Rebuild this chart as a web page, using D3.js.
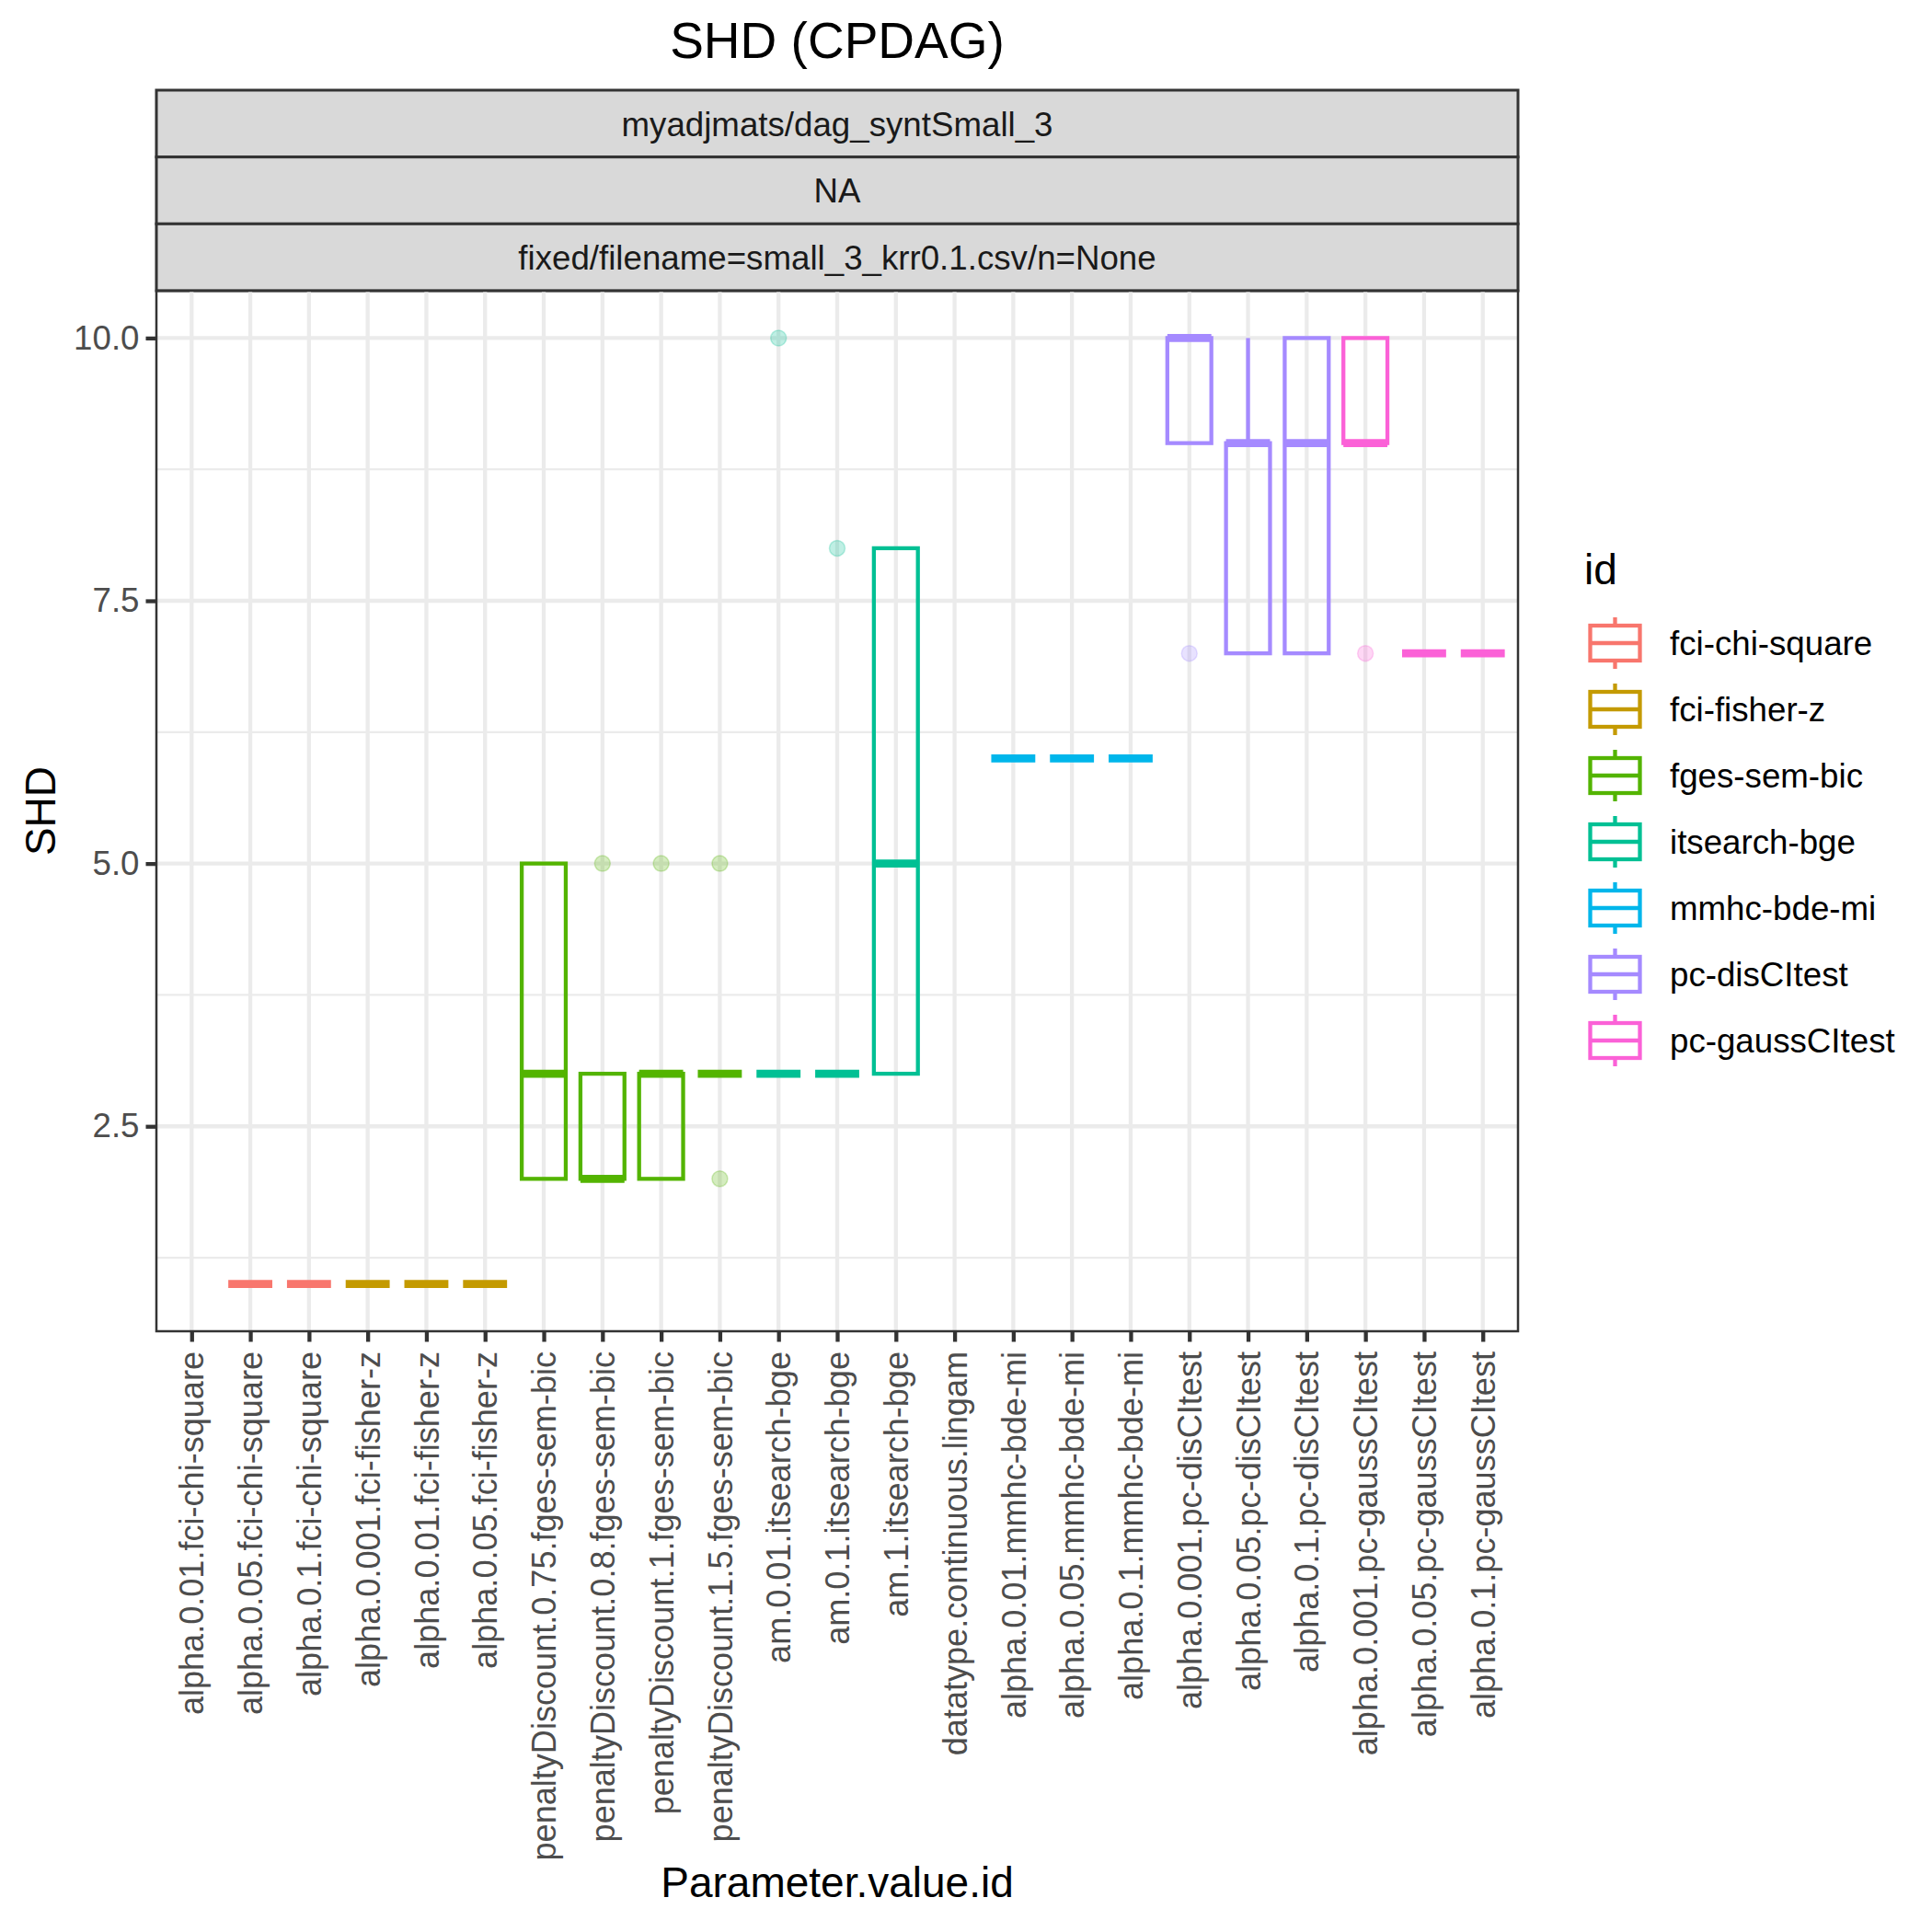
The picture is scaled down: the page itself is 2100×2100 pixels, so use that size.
<!DOCTYPE html>
<html>
<head>
<meta charset="utf-8">
<script src="https://cdn.jsdelivr.net/npm/d3@7"></script>
<style>
  body { margin: 0; background: #fff; }
  text { font-family: "Liberation Sans", Arial, Helvetica, sans-serif; }
</style>
</head>
<body>
<div id="chart"></div>
<script>
// x categories, left to right
const categories = [
  "alpha.0.01.fci-chi-square", "alpha.0.05.fci-chi-square", "alpha.0.1.fci-chi-square",
  "alpha.0.001.fci-fisher-z", "alpha.0.01.fci-fisher-z", "alpha.0.05.fci-fisher-z",
  "penaltyDiscount.0.75.fges-sem-bic", "penaltyDiscount.0.8.fges-sem-bic",
  "penaltyDiscount.1.fges-sem-bic", "penaltyDiscount.1.5.fges-sem-bic",
  "am.0.01.itsearch-bge", "am.0.1.itsearch-bge", "am.1.itsearch-bge",
  "datatype.continuous.lingam",
  "alpha.0.01.mmhc-bde-mi", "alpha.0.05.mmhc-bde-mi", "alpha.0.1.mmhc-bde-mi",
  "alpha.0.001.pc-disCItest", "alpha.0.05.pc-disCItest", "alpha.0.1.pc-disCItest",
  "alpha.0.001.pc-gaussCItest", "alpha.0.05.pc-gaussCItest", "alpha.0.1.pc-gaussCItest"
];
// which id each category belongs to
const catIds = [
  "fci-chi-square", "fci-chi-square", "fci-chi-square",
  "fci-fisher-z", "fci-fisher-z", "fci-fisher-z",
  "fges-sem-bic", "fges-sem-bic", "fges-sem-bic", "fges-sem-bic",
  "itsearch-bge", "itsearch-bge", "itsearch-bge",
  "lingam",
  "mmhc-bde-mi", "mmhc-bde-mi", "mmhc-bde-mi",
  "pc-disCItest", "pc-disCItest", "pc-disCItest",
  "pc-gaussCItest", "pc-gaussCItest", "pc-gaussCItest"
];
const idNames = ["fci-chi-square", "fci-fisher-z", "fges-sem-bic", "itsearch-bge", "mmhc-bde-mi", "pc-disCItest", "pc-gaussCItest"];
const idColors = ["#F8766D", "#C49A00", "#53B400", "#00C094", "#00B6EB", "#A58AFF", "#FB61D7"];

// boxplot stats per category (null = nothing drawn)
const whiskerLow  = [null, 1, 1, 1, 1, 1, 2, 2, 2, 3, 3, 3, 3, null, 6, 6, 6, 9, 7, 7, 9, 7, 7];
const boxLower    = [null, 1, 1, 1, 1, 1, 2, 2, 2, 3, 3, 3, 3, null, 6, 6, 6, 9, 7, 7, 9, 7, 7];
const boxMedian   = [null, 1, 1, 1, 1, 1, 3, 2, 3, 3, 3, 3, 5, null, 6, 6, 6, 10, 9, 9, 9, 7, 7];
const boxUpper    = [null, 1, 1, 1, 1, 1, 5, 3, 3, 3, 3, 3, 8, null, 6, 6, 6, 10, 9, 10, 10, 7, 7];
const whiskerHigh = [null, 1, 1, 1, 1, 1, 5, 3, 3, 3, 3, 3, 8, null, 6, 6, 6, 10, 10, 10, 10, 7, 7];
// outliers: [category index, value]
const outliers = [[7, 5], [8, 5], [9, 5], [9, 2], [10, 10], [11, 8], [17, 7], [20, 7]];

const yTicks = [2.5, 5, 7.5, 10];
const yMinor = [1.25, 3.75, 6.25, 8.75];
const stripLabels = ["myadjmats/dag_syntSmall_3", "NA", "fixed/filename=small_3_krr0.1.csv/n=None"];

const w = 2100;
const h = 2100;
const pL = 170, pR = 1650, pT = 316, pB = 1447;
const stripTop = 98;
const stripH = (pT - stripTop) / 3;
const lw = 4.3; // box line width

const svg = d3.select("#chart")
              .append("svg")
              .attr("width", w)
              .attr("height", h);

svg.append("rect").attr("width", w).attr("height", h).attr("fill", "#fff");

const xScale = d3.scalePoint()
                 .domain(categories)
                 .range([pL, pR])
                 .padding(0.6);
const yScale = d3.scaleLinear()
                 .domain([0.55, 10.45])
                 .range([pB, pT]);
const color = d3.scaleOrdinal().domain(idNames).range(idColors);
const boxW = xScale.step() * 0.75;

// title
svg.append("text")
   .attr("x", (pL + pR) / 2)
   .attr("y", 63)
   .attr("text-anchor", "middle")
   .attr("font-size", 55)
   .attr("fill", "#000")
   .text("SHD (CPDAG)");

// facet strips
stripLabels.forEach((lab, i) => {
  svg.append("rect")
     .attr("x", pL).attr("y", stripTop + i * stripH)
     .attr("width", pR - pL).attr("height", stripH)
     .attr("fill", "#D9D9D9").attr("stroke", "#333333").attr("stroke-width", 3);
  svg.append("text")
     .attr("x", (pL + pR) / 2)
     .attr("y", stripTop + i * stripH + stripH / 2)
     .attr("dy", "0.36em")
     .attr("text-anchor", "middle")
     .attr("font-size", 36.7)
     .attr("fill", "#1A1A1A")
     .text(lab);
});

// grid
const grid = svg.append("g");
grid.selectAll(".minor").data(yMinor).enter().append("line")
    .attr("x1", pL).attr("x2", pR)
    .attr("y1", d => yScale(d)).attr("y2", d => yScale(d))
    .attr("stroke", "#EBEBEB").attr("stroke-width", 2.2);
grid.selectAll(".major").data(yTicks).enter().append("line")
    .attr("x1", pL).attr("x2", pR)
    .attr("y1", d => yScale(d)).attr("y2", d => yScale(d))
    .attr("stroke", "#EBEBEB").attr("stroke-width", lw);
grid.selectAll(".vmajor").data(categories).enter().append("line")
    .attr("x1", d => xScale(d)).attr("x2", d => xScale(d))
    .attr("y1", pT).attr("y2", pB)
    .attr("stroke", "#EBEBEB").attr("stroke-width", lw);

// boxplots
const boxes = categories.map((c, i) => ({
  cat: c, id: catIds[i],
  lo: whiskerLow[i], q1: boxLower[i], med: boxMedian[i], q3: boxUpper[i], hi: whiskerHigh[i]
})).filter(d => d.med !== null);

const bg = svg.append("g");
boxes.forEach(d => {
  const cx = xScale(d.cat);
  const col = color(d.id);
  if (d.hi > d.q3) {
    bg.append("line").attr("x1", cx).attr("x2", cx)
      .attr("y1", yScale(d.hi)).attr("y2", yScale(d.q3))
      .attr("stroke", col).attr("stroke-width", lw);
  }
  if (d.lo < d.q1) {
    bg.append("line").attr("x1", cx).attr("x2", cx)
      .attr("y1", yScale(d.q1)).attr("y2", yScale(d.lo))
      .attr("stroke", col).attr("stroke-width", lw);
  }
  bg.append("rect")
    .attr("x", cx - boxW / 2)
    .attr("y", yScale(d.q3))
    .attr("width", boxW)
    .attr("height", yScale(d.q1) - yScale(d.q3))
    .attr("fill", "none")
    .attr("stroke", col).attr("stroke-width", lw);
  bg.append("line")
    .attr("x1", cx - boxW / 2).attr("x2", cx + boxW / 2)
    .attr("y1", yScale(d.med)).attr("y2", yScale(d.med))
    .attr("stroke", col).attr("stroke-width", lw * 2);
});

svg.append("g").selectAll("circle")
   .data(outliers).enter().append("circle")
   .attr("cx", d => xScale(categories[d[0]]))
   .attr("cy", d => yScale(d[1]))
   .attr("r", 8.5)
   .attr("fill", d => color(catIds[d[0]]))
   .attr("fill-opacity", 0.25)
   .attr("stroke", d => color(catIds[d[0]]))
   .attr("stroke-opacity", 0.25)
   .attr("stroke-width", 1.5);

// panel border
svg.append("rect")
   .attr("x", pL).attr("y", pT)
   .attr("width", pR - pL).attr("height", pB - pT)
   .attr("fill", "none").attr("stroke", "#333333").attr("stroke-width", 2.5);

// axes
const yAxis = d3.axisLeft(yScale).tickValues(yTicks).tickFormat(d3.format(".1f"))
                .tickSize(11.5).tickPadding(7);
const gy = svg.append("g").attr("transform", "translate(" + pL + ",0)").call(yAxis);
gy.select(".domain").remove();
gy.selectAll(".tick line").attr("stroke", "#333333").attr("stroke-width", lw);
gy.selectAll(".tick text").attr("font-size", 36.7).attr("fill", "#4D4D4D")
  .attr("font-family", "Liberation Sans, Arial, Helvetica, sans-serif");

const xAxis = d3.axisBottom(xScale).tickSize(11.5).tickPadding(0);
const gx = svg.append("g").attr("transform", "translate(0," + pB + ")").call(xAxis);
gx.select(".domain").remove();
gx.selectAll(".tick line").attr("stroke", "#333333").attr("stroke-width", lw);
gx.selectAll(".tick text")
  .attr("font-size", 36.1).attr("fill", "#4D4D4D")
  .attr("font-family", "Liberation Sans, Arial, Helvetica, sans-serif")
  .attr("text-anchor", "end")
  .attr("x", 0).attr("y", 0)
  .attr("dy", "0.35em")
  .attr("transform", "translate(0,22) rotate(-90)");

// axis titles
svg.append("text")
   .attr("x", (pL + pR) / 2).attr("y", 2062)
   .attr("text-anchor", "middle").attr("font-size", 46).attr("fill", "#000")
   .text("Parameter.value.id");
svg.append("text")
   .attr("transform", "translate(60," + ((pT + pB) / 2) + ") rotate(-90)")
   .attr("text-anchor", "middle").attr("font-size", 46).attr("fill", "#000")
   .text("SHD");

// legend
const lg = svg.append("g").attr("transform", "translate(1722,0)");
lg.append("text").attr("x", 0).attr("y", 635).attr("font-size", 46).attr("fill", "#000").text("id");
idNames.forEach((name, i) => {
  const cy = 699 + i * 72;
  const cx = 33.5;
  const col = color(name);
  const key = lg.append("g");
  key.append("line").attr("x1", cx).attr("x2", cx).attr("y1", cy - 28).attr("y2", cy - 19)
     .attr("stroke", col).attr("stroke-width", lw);
  key.append("line").attr("x1", cx).attr("x2", cx).attr("y1", cy + 19).attr("y2", cy + 28)
     .attr("stroke", col).attr("stroke-width", lw);
  key.append("rect").attr("x", cx - 27).attr("y", cy - 19).attr("width", 54).attr("height", 38)
     .attr("fill", "none").attr("stroke", col).attr("stroke-width", lw);
  key.append("line").attr("x1", cx - 27).attr("x2", cx + 27).attr("y1", cy).attr("y2", cy)
     .attr("stroke", col).attr("stroke-width", lw);
  lg.append("text").attr("x", 93).attr("y", cy).attr("dy", "0.36em")
    .attr("font-size", 36.7).attr("fill", "#000").text(name);
});
</script>
</body>
</html>
